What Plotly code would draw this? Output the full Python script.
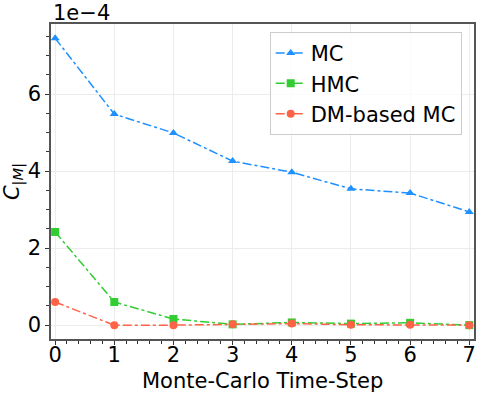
import plotly.graph_objects as go

# values are in units of 1e-4
steps = [0, 1, 2, 3, 4, 5, 6, 7]
mc = [7.45, 5.48, 4.99, 4.26, 3.97, 3.54, 3.43, 2.94]
hmc = [2.42, 0.60, 0.16, 0.02, 0.07, 0.04, 0.06, 0.0]
dm_mc = [0.60, 0.0, 0.0, 0.02, 0.04, 0.01, 0.01, 0.0]

series = [
    ("MC", mc, "#1E90FF", "triangle-up"),
    ("HMC", hmc, "#32CD32", "square"),
    ("DM-based MC", dm_mc, "#FF6347", "circle"),
]

FONT = "DejaVu Sans"
FS = 21

fig = go.Figure()
for name, vals, color, symbol in series:
    fig.add_trace(go.Scatter(
        x=steps, y=vals, name=name, mode="lines+markers",
        line=dict(color=color, width=1.5, dash="dashdot"),
        marker=dict(symbol=symbol, size=8, color=color),
    ))

axis_common = dict(
    showline=True, linecolor="#555555", linewidth=1.5, mirror=True,
    ticks="outside", ticklen=4, tickcolor="#333333", tickwidth=1,
    showgrid=True, gridcolor="#ececec", gridwidth=1,
    zeroline=False, automargin=False,
    tickfont=dict(family=FONT, size=FS, color="black"),
)

fig.update_xaxes(
    **axis_common,
    range=[-0.07, 7.08], dtick=1,
    ticklabelstandoff=-8,
    minor=dict(ticks="outside", dtick=0.2, ticklen=3, tickcolor="#333333", showgrid=False),
)
fig.update_yaxes(
    **axis_common,
    range=[-0.36, 7.82], dtick=2,
    minor=dict(ticks="outside", dtick=0.5, ticklen=3, tickcolor="#333333", showgrid=False),
    title=dict(text="<i>C</i><sub><i>|M|</i></sub>", font=dict(family=FONT, size=FS, color="black"),
               standoff=4),
)

fig.add_annotation(
    text="Monte-Carlo Time-Step", xref="paper", yref="paper", x=0.5, y=-0.133,
    xanchor="center", yanchor="middle", showarrow=False,
    font=dict(family=FONT, size=FS, color="black"),
)
fig.add_annotation(
    text="1e\u22124", xref="paper", yref="paper", x=0, y=1, xanchor="left", yanchor="bottom",
    showarrow=False, font=dict(family=FONT, size=FS, color="black"), yshift=-3,
)

fig.update_layout(
    width=481, height=394,
    margin=dict(l=51, r=7, t=24, b=55),
    paper_bgcolor="white", plot_bgcolor="white",
    legend=dict(
        x=0.517, y=0.975, xanchor="left", yanchor="top",
        bordercolor="#cccccc", borderwidth=1, bgcolor="rgba(255,255,255,0.8)",
        font=dict(family=FONT, size=FS, color="black"),
        tracegroupgap=0,
    ),
)

fig.write_html("out.html", config={"displayModeBar": False},
               post_script="document.body.style.margin='0';")
